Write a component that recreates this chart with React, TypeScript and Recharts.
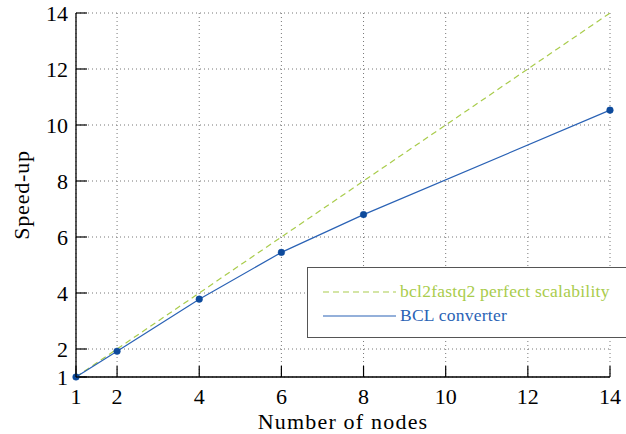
import React from "react";
import { LineChart, Line, XAxis, YAxis, CartesianGrid } from "recharts";

const nodes = [1, 2, 4, 6, 8, 14];
const bclSpeedup = [1, 1.92, 3.78, 5.45, 6.8, 10.53];
const perfectNodes = [1, 14];
const perfectSpeedup = [1, 14];
const xTicks = [1, 2, 4, 6, 8, 10, 12, 14];
const yTicks = [1, 2, 4, 6, 8, 10, 12, 14];

const bclData = nodes.map((n, i) => ({ n, v: bclSpeedup[i] }));
const perfectData = perfectNodes.map((n, i) => ({ n, v: perfectSpeedup[i] }));

const FONT = "Liberation Serif";
const GREEN = "#a9cc4c";
const BLUE = "#2a62b5";
const DOT = "#0d4a9c";
const TL = 11;
const tstyle = { fontFamily: FONT };

const BottomTick = (p: any) => (
  <g>
    <line x1={p.x} y1={p.y} x2={p.x} y2={p.y - TL} stroke="#000" strokeWidth={1.2} />
    <text x={p.x} y={p.y + 27} textAnchor="middle" style={tstyle} fontSize={22} fill="#000">
      {p.payload.value}
    </text>
  </g>
);
const TopTick = (p: any) => (
  <line x1={p.x} y1={p.y} x2={p.x} y2={p.y + TL} stroke="#000" strokeWidth={1.2} />
);
const LeftTick = (p: any) => (
  <g>
    <line x1={p.x} y1={p.y} x2={p.x + TL} y2={p.y} stroke="#000" strokeWidth={1.2} />
    <text x={p.x - 8} y={p.y + 8} textAnchor="end" style={tstyle} fontSize={22} fill="#000">
      {p.payload.value}
    </text>
  </g>
);
const RightTick = (p: any) => (
  <line x1={p.x} y1={p.y} x2={p.x - TL} y2={p.y} stroke="#000" strokeWidth={1.2} />
);

export default function App() {
  return (
    <div style={{ position: "absolute", left: 0, top: 0, width: 626, height: 434, background: "#fff", overflow: "hidden" }}>
      <LineChart width={626} height={434} margin={{ top: 13, right: 16, left: 0, bottom: 0 }}>
        <CartesianGrid stroke="#777" strokeDasharray="1 3" strokeWidth={1} />
        <XAxis
          dataKey="n"
          type="number"
          domain={[1, 14]}
          ticks={xTicks}
          height={57}
          tickSize={0}
          tickMargin={0}
          tick={<BottomTick />}
          tickLine={false}
          axisLine={{ stroke: "#000", strokeWidth: 1.3 }}
          label={{ value: "Number of nodes", position: "insideBottom", offset: 5, style: { fontFamily: FONT, fontSize: 22, letterSpacing: 1.2, fill: "#000" } }}
        />
        <XAxis
          xAxisId="top"
          orientation="top"
          dataKey="n"
          type="number"
          domain={[1, 14]}
          ticks={xTicks}
          height={0}
          tickSize={0}
          tickMargin={0}
          tick={<TopTick />}
          tickLine={false}
          axisLine={{ stroke: "#000", strokeWidth: 1.3 }}
        />
        <YAxis
          type="number"
          domain={[1, 14]}
          ticks={yTicks}
          width={76}
          tickSize={0}
          tickMargin={0}
          tick={<LeftTick />}
          tickLine={false}
          axisLine={{ stroke: "#000", strokeWidth: 1.3 }}
          label={{ value: "Speed-up", angle: -90, position: "insideLeft", offset: 21, style: { textAnchor: "middle", fontFamily: FONT, fontSize: 22, letterSpacing: 0.8, fill: "#000" } }}
        />
        <YAxis
          yAxisId="right"
          orientation="right"
          type="number"
          domain={[1, 14]}
          ticks={yTicks}
          width={0}
          tickSize={0}
          tickMargin={0}
          tick={<RightTick />}
          tickLine={false}
          axisLine={{ stroke: "#000", strokeWidth: 1.3 }}
        />
        <Line
          data={perfectData}
          dataKey="v"
          type="linear"
          stroke={GREEN}
          strokeWidth={1.2}
          strokeDasharray="6 4"
          dot={false}
          isAnimationActive={false}
        />
        <Line
          data={bclData}
          dataKey="v"
          type="linear"
          stroke={BLUE}
          strokeWidth={1.2}
          dot={{ r: 3.3, fill: DOT, stroke: DOT, strokeWidth: 0.5 }}
          isAnimationActive={false}
        />
      </LineChart>
      <div
        style={{
          position: "absolute",
          left: 307,
          top: 267,
          width: 330,
          height: 71,
          border: "1.3px solid #555",
          background: "#fff",
          boxSizing: "border-box",
        }}
      >
        <svg width={330} height={71} style={{ position: "absolute", left: 0, top: 0 }}>
          <line x1={15} y1={24} x2={88} y2={24} stroke={GREEN} strokeWidth={1.1} strokeDasharray="6 4" />
          <text x={92} y={29} fill={GREEN} style={{ fontFamily: FONT, letterSpacing: 0.25 }} fontSize={17.5}>bcl2fastq2 perfect scalability</text>
          <line x1={15} y1={48} x2={88} y2={48} stroke={BLUE} strokeWidth={1.1} />
          <text x={92} y={53} fill={BLUE} style={{ fontFamily: FONT, letterSpacing: 0.25 }} fontSize={17.5}>BCL converter</text>
        </svg>
      </div>
    </div>
  );
}
